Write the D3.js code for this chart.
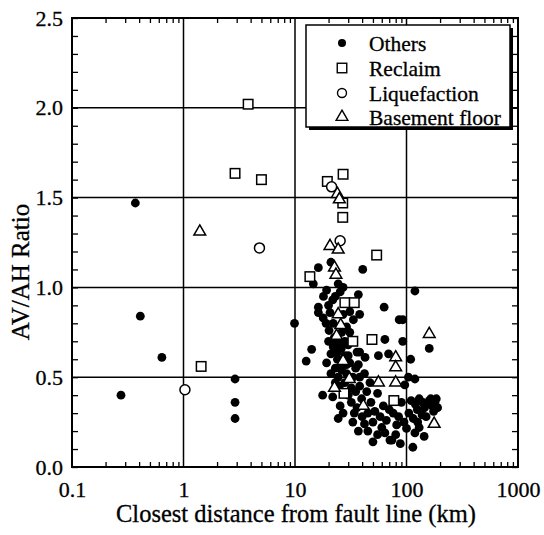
<!DOCTYPE html>
<html><head><meta charset="utf-8">
<script src="https://cdn.jsdelivr.net/npm/d3@7"></script>
<style>html,body{margin:0;padding:0;background:#fff}svg{display:block}</style>
</head><body>
<svg id="c" width="544" height="535"></svg>
<script>
// ---- data ----
const xTickValues = [0.1, 1, 10, 100, 1000];
const xTickLabels = ["0.1", "1", "10", "100", "1000"];
const yTickValues = [0, 0.5, 1.0, 1.5, 2.0, 2.5];
const yTickLabels = ["0.0", "0.5", "1.0", "1.5", "2.0", "2.5"];
const seriesNames = ["Others", "Reclaim", "Liquefaction", "Basement floor"];

const others = [
  [0.275,0.40],[0.37,1.47],[0.41,0.84],[0.64,0.61],[2.9,0.49],[2.9,0.36],[2.9,0.27],[9.9,0.80],
  [21,1.14],[16.2,1.11],[40.5,1.10],[14.6,1.02],[19.2,0.985],[24.4,1.02],[21.8,0.93],[25.4,0.975],
  [27,1.0],[37,0.96],[16.2,0.89],[63,0.89],[119,0.98],
  [16.2,0.86],[20.6,0.86],[31,0.865],[38,0.85],[17.9,0.83],[33.4,0.82],[20.2,0.76],[26.2,0.75],
  [31,0.75],[64,0.71],[86,0.82],[92.5,0.82],[92.5,0.70],[160,0.66],[14.1,0.655],[12.6,0.59],[19.2,0.58],
  [22,0.67],[24,0.64],[26,0.66],[28,0.62],[24,0.60],[27,0.60],[23,0.55],[29,0.57],[25,0.70],
  [22.5,0.72],[30,0.68],[21,0.63],
  [38,0.64],[42.5,0.61],[37,0.57],[56,0.62],[69,0.63],[26.2,0.54],[24.4,0.50],[38,0.50],[17.7,0.40],
  [21.8,0.39],[25.4,0.34],[38,0.45],[39.6,0.38],[24.4,0.27],[37,0.20],[64,0.19],[71,0.15],
  [109,0.60],[104,0.50],[119,0.49],[96.5,0.457],[81.6,0.234],[100,0.215],[126,0.25],[138,0.29],
  [144,0.17],[119,0.19],[114,0.11],[74,0.15],[76,0.30],
  [110,0.37],[120,0.35],[130,0.38],[140,0.36],[150,0.35],[160,0.37],[170,0.34],[180,0.36],[190,0.33],
  [125,0.32],[145,0.33],[165,0.38],[185,0.38],[175,0.31],
  [48,0.36],[52,0.31],[58,0.28],[62,0.34],[66,0.26],[70,0.32],[55,0.41],[45,0.30],[85,0.28],[90,0.36],
  [60,0.22],[50,0.25],[44,0.42],[34,0.30],[30,0.40],[32,0.44],[29,0.52],[35,0.55],[47,0.47],[42,0.52],
  [18,0.95],[20,0.90],[23,0.95],[19,0.80],[22,0.80],[27,0.85],[29,0.78],[23,0.68],[20,0.70],[28,0.70],
  [26,0.58],[30,0.62],[25,0.45],[28,0.47],[32,0.36],[35,0.42],[27,0.30],[33,0.25],[40,0.28],[42,0.24],
  [36,0.33],[45,0.20],[55,0.18],[50,0.14],[80,0.18],[95,0.25],[88,0.13],[105,0.30],[115,0.27],
  [130,0.22],[150,0.28],[21,0.52],[23,0.47],[31,0.58],[33,0.50],[36,0.64]
];
const reclaim = [
  [3.8,2.02],[2.9,1.635],[5.0,1.60],[1.44,0.56],[19.5,1.59],[27,1.63],[26.8,1.47],[26.8,1.39],
  [54,1.18],[13.6,1.06],[28,0.915],[34,0.915],[33,0.70],[49,0.71],[27.5,0.41],[77,0.37]
];
const liquefaction = [[4.8,1.22],[1.03,0.43],[21.3,1.56],[25.4,1.26]];
const basement = [
  [1.4,1.31],[24,1.52],[25,1.49],[20.6,1.23],[24.4,1.21],[22.6,1.11],[23.3,1.07],[24.4,0.85],
  [25.7,0.79],[23.6,0.73],[27,0.59],[80,0.61],[80,0.555],[30.7,0.49],[56,0.47],[80,0.47],
  [22.6,0.44],[41,0.34],[160,0.74],[177,0.24]
];

// ---- layout ----
const L = 72, R = 518, T = 18, B = 467;
const svg = d3.select("#c");
const FONT = "'Liberation Serif', 'Times New Roman', serif";
const x = d3.scaleLog().domain([0.1, 1000]).range([L, R]);
const y = d3.scaleLinear().domain([0, 2.5]).range([B, T]);

// gridlines
const g = svg.append("g");
[1, 10, 100].forEach(v => g.append("line").attr("x1", x(v)).attr("x2", x(v)).attr("y1", T).attr("y2", B)
  .attr("stroke", "#000").attr("stroke-width", 1.5));
[0.5, 1.0, 1.5, 2.0].forEach(v => g.append("line").attr("x1", L).attr("x2", R).attr("y1", y(v)).attr("y2", y(v))
  .attr("stroke", "#000").attr("stroke-width", 1.5));

// minor ticks (inside, all four sides)
const xMinor = [];
[0.1, 1, 10, 100].forEach(d => { for (let k = 2; k <= 9; k++) xMinor.push(d * k); });
const yMinor = d3.range(0, 26).map(i => i / 10);
const ax = svg.append("g");
ax.append("g").attr("transform", `translate(0,${B})`)
  .call(d3.axisBottom(x).tickValues(xMinor).tickSize(-5).tickFormat(""));
ax.append("g").attr("transform", `translate(0,${T})`)
  .call(d3.axisTop(x).tickValues(xMinor).tickSize(-5).tickFormat(""));
ax.append("g").attr("transform", `translate(${L},0)`)
  .call(d3.axisLeft(y).tickValues(yMinor).tickSize(-6).tickFormat(""));
ax.append("g").attr("transform", `translate(${R},0)`)
  .call(d3.axisRight(y).tickValues(yMinor).tickSize(-6).tickFormat(""));
ax.selectAll(".domain").remove();
ax.selectAll(".tick line").attr("stroke", "#000").attr("stroke-width", 1.3);

// tick labels
const xl = svg.append("g").attr("transform", `translate(0,${B})`)
  .call(d3.axisBottom(x).tickValues(xTickValues).tickSize(0).tickPadding(14)
    .tickFormat((d, i) => xTickLabels[i]));
xl.select(".domain").remove();
xl.selectAll("text").attr("font-family", FONT).attr("font-size", 22).attr("fill", "#000")
  .attr("stroke", "#000").attr("stroke-width", 0.3);
const yl = svg.append("g").attr("transform", `translate(${L},0)`)
  .call(d3.axisLeft(y).tickValues(yTickValues).tickSize(0).tickPadding(9)
    .tickFormat((d, i) => yTickLabels[i]));
yl.select(".domain").remove();
yl.selectAll("text").attr("font-family", FONT).attr("font-size", 22).attr("fill", "#000")
  .attr("stroke", "#000").attr("stroke-width", 0.3);

// frame
svg.append("rect").attr("x", L).attr("y", T).attr("width", R - L).attr("height", B - T)
  .attr("fill", "none").attr("stroke", "#000").attr("stroke-width", 2);

// marks
const pts = svg.append("g");
pts.selectAll("circle.oth").data(others).join("circle").attr("class", "oth")
  .attr("cx", d => x(d[0])).attr("cy", d => y(d[1])).attr("r", 4.4).attr("fill", "#000");
const sq = 9.5;
pts.selectAll("rect.rec").data(reclaim).join("rect").attr("class", "rec")
  .attr("x", d => x(d[0]) - sq / 2).attr("y", d => y(d[1]) - sq / 2).attr("width", sq).attr("height", sq)
  .attr("fill", "#fff").attr("stroke", "#000").attr("stroke-width", 1.5);
pts.selectAll("circle.liq").data(liquefaction).join("circle").attr("class", "liq")
  .attr("cx", d => x(d[0])).attr("cy", d => y(d[1])).attr("r", 5)
  .attr("fill", "#fff").attr("stroke", "#000").attr("stroke-width", 1.5);
const tri = d3.symbol().type(d3.symbolTriangle).size(60);
pts.selectAll("path.bas").data(basement).join("path").attr("class", "bas")
  .attr("d", tri).attr("transform", d => `translate(${x(d[0])},${y(d[1])})`)
  .attr("fill", "#fff").attr("stroke", "#000").attr("stroke-width", 1.5);

// legend
const lg = svg.append("g");
lg.append("rect").attr("x", 309).attr("y", 28).attr("width", 204).attr("height", 102).attr("fill", "#000");
lg.append("rect").attr("x", 306).attr("y", 25).attr("width", 204).attr("height", 102)
  .attr("fill", "#fff").attr("stroke", "#000").attr("stroke-width", 1.5);
const rows = [43, 68, 93, 117];
const mx = 342;
lg.append("circle").attr("cx", mx).attr("cy", rows[0]).attr("r", 4).attr("fill", "#000");
lg.append("rect").attr("x", mx - sq / 2).attr("y", rows[1] - sq / 2).attr("width", sq).attr("height", sq)
  .attr("fill", "#fff").attr("stroke", "#000").attr("stroke-width", 1.4);
lg.append("circle").attr("cx", mx).attr("cy", rows[2]).attr("r", 4.5)
  .attr("fill", "#fff").attr("stroke", "#000").attr("stroke-width", 1.4);
lg.append("path").attr("d", tri).attr("transform", `translate(${mx},${rows[3]})`)
  .attr("fill", "#fff").attr("stroke", "#000").attr("stroke-width", 1.4);
lg.selectAll("text").data(seriesNames).join("text")
  .attr("x", 369).attr("y", (d, i) => rows[i]).attr("dy", "0.35em")
  .attr("font-family", FONT).attr("font-size", 21.5).attr("fill", "#000")
  .attr("stroke", "#000").attr("stroke-width", 0.3).text(d => d);

// axis titles
svg.append("text").attr("x", 296).attr("y", 522).attr("text-anchor", "middle")
  .attr("font-family", FONT).attr("font-size", 24.5).attr("fill", "#000")
  .attr("stroke", "#000").attr("stroke-width", 0.3)
  .text("Closest distance from fault line (km)");
svg.append("text").attr("transform", `translate(29,272) rotate(-90)`).attr("text-anchor", "middle")
  .attr("font-family", FONT).attr("font-size", 25).attr("fill", "#000")
  .attr("stroke", "#000").attr("stroke-width", 0.3)
  .text("AV/AH Ratio");
</script>
</body></html>
